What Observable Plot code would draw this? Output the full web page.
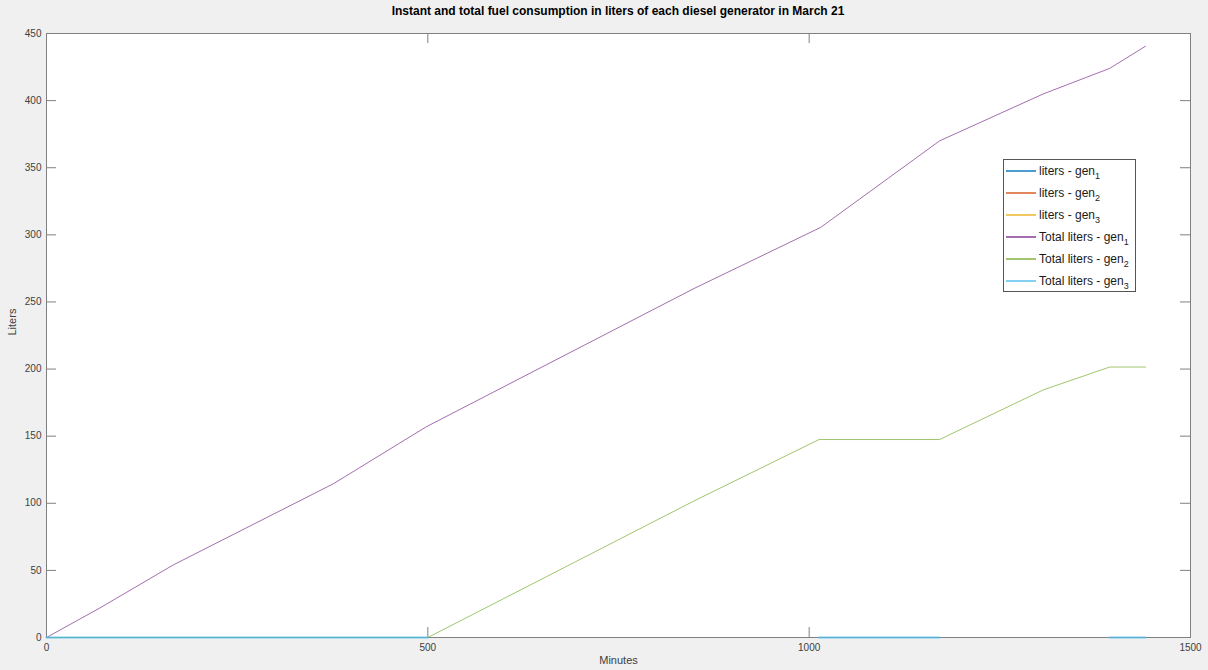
<!DOCTYPE html>
<html>
<head>
<meta charset="utf-8">
<script src="https://cdn.jsdelivr.net/npm/d3@7"></script>
<script src="https://cdn.jsdelivr.net/npm/@observablehq/plot@0.6"></script>
<style>
  html, body { margin: 0; padding: 0; background: #f0f0f0; }
  #wrap { position: relative; width: 1208px; height: 670px; font-family: "Liberation Sans", Arial, Helvetica, sans-serif; }
  #title { height: 18px; line-height: 18px; padding-top: 2px; text-align: center; font-weight: bold; font-size: 12px; color: #000; padding-left: 28px; box-sizing: border-box; }
  #legend { position: absolute; left: 1003px; top: 159px; width: 133px; height: 133px; box-sizing: border-box;
            border: 1px solid #555; background: #fff; padding-top: 0px; }
  .row { height: 22px; display: flex; align-items: center; font-size: 12px; color: #1a1a1a; }
  .sw { width: 30px; margin-left: 2px; margin-right: 3px; }
  .row sub { font-size: 9px; vertical-align: -4px; line-height: 0; }
</style>
</head>
<body>
<div id="wrap">
  <div id="title">Instant and total fuel consumption in liters of each diesel generator in March 21</div>
  <div id="chart"></div>
  <div id="legend"></div>
</div>
<script>
// Axis ticks
const xTicks = [0, 500, 1000, 1500];
const yTicks = [0, 50, 100, 150, 200, 250, 300, 350, 400, 450];

// Instant consumption (liters per minute) of each generator, sitting at zero
const instMinutes = [0, 1441];
const instGen1 = [0, 0];
const instGen2 = [0, 0];
const instGen3 = [0, 0];

// Cumulative liters, generator 1
const totalGen1Minutes = [0, 70, 166, 376, 498, 849, 1015, 1171, 1307, 1394, 1441];
const totalGen1Liters  = [0, 22, 54, 114.5, 157, 260, 305.5, 370, 405, 424, 440.5];

// Cumulative liters, generator 2
const totalGen2Minutes = [0, 500, 850, 1013, 1171, 1307, 1394, 1441];
const totalGen2Liters  = [0, 0, 102, 147.5, 147.5, 184.5, 201.5, 201.5];

// Cumulative liters, generator 3 (gaps where no value was logged)
const totalGen3Minutes = [0, 500, 760, 1013, 1171, 1280, 1394, 1441];
const totalGen3Liters  = [0, 0, null, 0, 0, null, 0, 0];

const series = [
  {name: "liters - gen", sub: "1", color: "#0072BD", w: 1},
  {name: "liters - gen", sub: "2", color: "#D95319", w: 1},
  {name: "liters - gen", sub: "3", color: "#EDB120", w: 1},
  {name: "Total liters - gen", sub: "1", color: "#7E2F8E", w: 1},
  {name: "Total liters - gen", sub: "2", color: "#77AC30", w: 1},
  {name: "Total liters - gen", sub: "3", color: "#4DBEEE", w: 2}
];

const pts = (xs, ys) => xs.map((m, i) => ({minute: m, liters: ys[i]}));

const W = 1208, H = 652;
const mTop = 15, mBottom = 33, mLeft = 46, mRight = 18;
const innerH = H - mTop - mBottom, innerW = W - mLeft - mRight;
const tickLen = 10, grey = "#808080";

const lineOf = (data, s) => Plot.line(data, {
  x: "minute", y: "liters", stroke: s.color, strokeWidth: s.w, strokeOpacity: s.w === 2 ? 0.75 : 0.7
});

const chart = Plot.plot({
  width: W, height: H,
  marginTop: mTop, marginBottom: mBottom, marginLeft: mLeft, marginRight: mRight,
  style: {background: "transparent", fontFamily: "Liberation Sans, Arial, sans-serif", fontSize: "10px", color: "#404040"},
  x: {domain: [0, 1500]},
  y: {domain: [0, 450]},
  marks: [
    Plot.frame({fill: "white", stroke: null}),
    lineOf(pts(instMinutes, instGen1), series[0]),
    lineOf(pts(instMinutes, instGen2), series[1]),
    lineOf(pts(instMinutes, instGen3), series[2]),
    Plot.frame({stroke: grey, strokeWidth: 1}),
    // inward ticks on all four sides
    Plot.tickX(xTicks, {x: d => d, stroke: grey, insetTop: innerH - tickLen}),
    Plot.tickX(xTicks, {x: d => d, stroke: grey, insetBottom: innerH - tickLen}),
    Plot.tickY(yTicks, {y: d => d, stroke: grey, insetRight: innerW - tickLen}),
    Plot.tickY(yTicks, {y: d => d, stroke: grey, insetLeft: innerW - tickLen}),
    Plot.axisX({ticks: xTicks, tickSize: 0, tickPadding: 6, label: null, tickFormat: d => String(d)}),
    Plot.axisY({ticks: yTicks, tickSize: 0, tickPadding: 5, label: null, tickFormat: d => String(d)}),
    lineOf(pts(totalGen1Minutes, totalGen1Liters), series[3]),
    lineOf(pts(totalGen2Minutes, totalGen2Liters), series[4]),
    lineOf(pts(totalGen3Minutes, totalGen3Liters), series[5]),
    Plot.text(["Minutes"], {frameAnchor: "bottom", dy: 26, fontSize: 11, fill: "#404040"}),
    Plot.text(["Liters"], {frameAnchor: "left", dx: -34, rotate: -90, fontSize: 11, fill: "#404040"})
  ]
});
document.getElementById("chart").append(chart);

// Legend
const legend = document.getElementById("legend");
for (const s of series) {
  const row = document.createElement("div");
  row.className = "row";
  const sw = document.createElement("div");
  sw.className = "sw";
  sw.style.height = (s.w === 2 || s.sub === "1" && s.name.startsWith("Total") ? 2 : 1.5) + "px";
  sw.style.background = s.color;
  sw.style.opacity = "0.7";
  const label = document.createElement("span");
  label.innerHTML = `${s.name}<sub>${s.sub}</sub>`;
  row.append(sw, label);
  legend.append(row);
}
</script>
</body>
</html>
